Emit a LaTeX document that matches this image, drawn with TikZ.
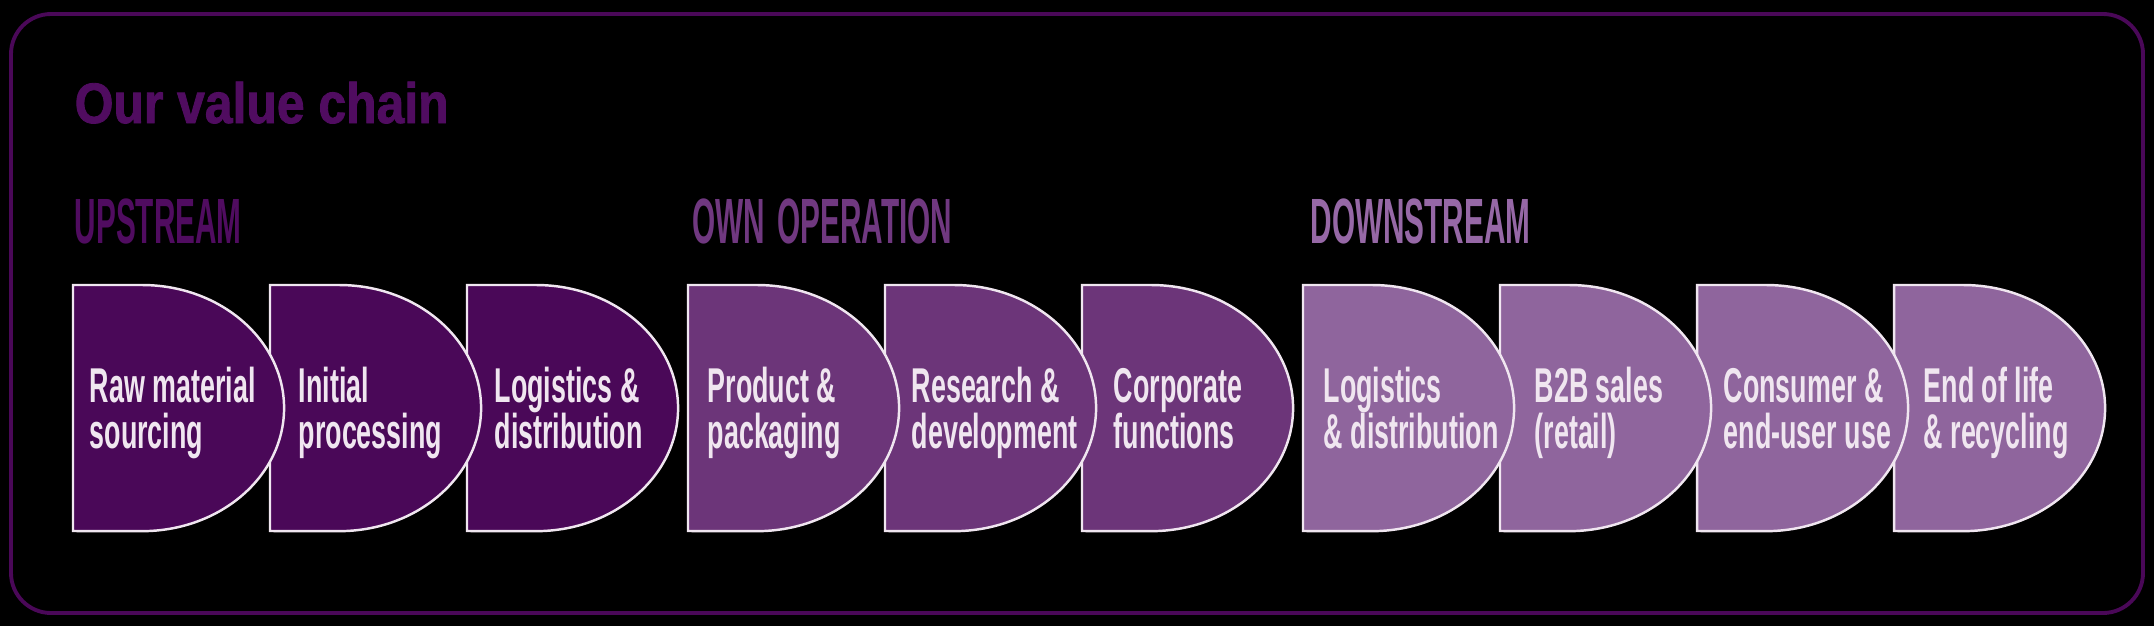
\documentclass[tikz,border=0pt]{standalone}
\usepackage{fontspec}
\usepackage{tikz}
\newfontfamily\titlefont[FakeStretch=0.875, FakeBold=1.5]{Liberation Sans}
\newfontfamily\headfont[FakeStretch=0.465]{Liberation Sans}
\newfontfamily\stagefont[FakeStretch=0.55]{Liberation Sans}
\definecolor{upcolor}{RGB}{74,8,88}
\definecolor{owncolor}{RGB}{108,53,121}
\definecolor{downcolor}{RGB}{143,101,157}
\definecolor{upheadcolor}{RGB}{80,12,96}
\definecolor{ownheadcolor}{RGB}{112,56,128}
\definecolor{downheadcolor}{RGB}{150,104,166}
\definecolor{labelwhite}{RGB}{240,230,240}
\setlength{\lineskiplimit}{-100pt}
\newcommand\stagelines[2]{\rule{0pt}{10.5pt}#1\\#2\rule[-3.5pt]{0pt}{1pt}}

\begin{document}
\begin{tikzpicture}[x=0.01cm, y=0.01cm, every node/.style={inner sep=0pt},
    stage/.style={draw=labelwhite, line width=0.7pt},
    stagetext/.style={anchor=west, align=left, text=labelwhite,
      font=\stagefont\bfseries\fontsize{13.9}{13}\selectfont},
    head/.style={anchor=base west, font=\headfont\bfseries\fontsize{18.2}{20}\selectfont},
    dshape/.pic={\path[pic actions] (0,0) -- (69,0)
      arc[start angle=90, end angle=-90, x radius=1.42cm, y radius=1.23cm] -- (0,-246) -- cycle;}]
    \fill[black] (0,0) rectangle (2154,626);
    \useasboundingbox (0,0) rectangle (2154,626);
    \draw[upcolor, line width=1.1pt, rounded corners=0.4cm] (11,13) rectangle (2143,612);

    \node[anchor=base west, text=upheadcolor, font=\titlefont\bfseries\fontsize{16.2}{18}\selectfont] (title) at (74,503) {Our value chain};
    \node[head, text=upheadcolor]   (up)   at (74,383)   {UPSTREAM};
    \node[head, text=ownheadcolor]  (own)  at (692,383)  {OWN\hspace{1.2mm}OPERATION};
    \node[head, text=downheadcolor] (down) at (1310,383) {DOWNSTREAM};

    % right to left, so each arc lies over the next stage
    \pic[stage, fill=downcolor] at (1894,341) {dshape};
    \pic[stage, fill=downcolor] at (1697,341) {dshape};
    \pic[stage, fill=downcolor] at (1500,341) {dshape};
    \pic[stage, fill=downcolor] at (1303,341) {dshape};
    \pic[stage, fill=owncolor]  at (1082,341) {dshape};
    \pic[stage, fill=owncolor]  at (885,341)  {dshape};
    \pic[stage, fill=owncolor]  at (688,341)  {dshape};
    \pic[stage, fill=upcolor]   at (467,341)  {dshape};
    \pic[stage, fill=upcolor]   at (270,341)  {dshape};
    \pic[stage, fill=upcolor]   at (73,341)   {dshape};

    \node[stagetext] (raw)     at (89,213)   {\stagelines{Raw material}{sourcing}};
    \node[stagetext] (initial) at (298,213)  {\stagelines{Initial}{processing}};
    \node[stagetext] (logup)   at (494,213)  {\stagelines{Logistics \&}{distribution}};
    \node[stagetext] (product) at (707,213)  {\stagelines{Product \&}{packaging}};
    \node[stagetext] (rnd)     at (911,213)  {\stagelines{Research \&}{development}};
    \node[stagetext] (corp)    at (1113,213) {\stagelines{Corporate}{functions}};
    \node[stagetext] (logdown) at (1323,213) {\stagelines{Logistics}{\& distribution}};
    \node[stagetext] (btob)    at (1534,213) {\stagelines{B2B sales}{(retail)}};
    \node[stagetext] (cons)    at (1723,213) {\stagelines{Consumer \&}{end-user use}};
    \node[stagetext] (eol)     at (1923,213) {\stagelines{End of life}{\& recycling}};
\end{tikzpicture}
\end{document}
